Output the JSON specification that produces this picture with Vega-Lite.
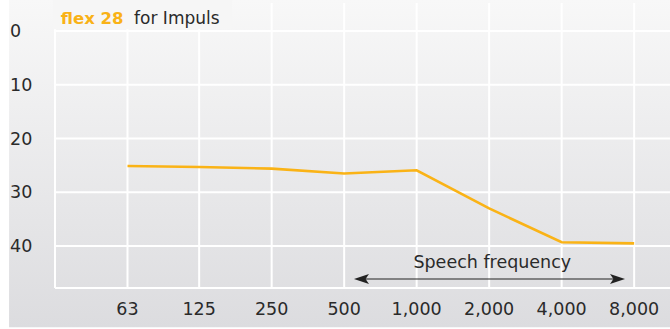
{
  "$schema": "https://vega.github.io/schema/vega-lite/v6.json",
  "width": 615,
  "height": 285,
  "autosize": {"type": "none"},
  "padding": {"left": 55, "top": 3, "right": 0, "bottom": 41},
  "background": "#ffffff",
  "config": {
    "view": {"stroke": null},
    "font": "DejaVu Sans",
    "axis": {"disable": true}
  },
  "datasets": {
    "curve": [
      {"freq": 63, "db": 25.1},
      {"freq": 125, "db": 25.3},
      {"freq": 250, "db": 25.6},
      {"freq": 500, "db": 26.5},
      {"freq": 1000, "db": 25.9},
      {"freq": 2000, "db": 33.0},
      {"freq": 4000, "db": 39.3},
      {"freq": 8000, "db": 39.5}
    ],
    "ygrid": [{"db": 0}, {"db": 10}, {"db": 20}, {"db": 30}, {"db": 40}],
    "one": [{}]
  },
  "layer": [
    {
      "data": {"name": "one"},
      "mark": {"type": "rect", "fill": {"gradient": "linear", "x1": 0, "y1": 0, "x2": 0, "y2": 1, "stops": [{"offset": 0, "color": "#f8f8f8"}, {"offset": 1, "color": "#dcdcdf"}]}},
      "encoding": {
        "x": {"datum": 20.3, "type": "quantitative", "scale": {"type": "log", "base": 2, "domain": [31.5, 11270]}},
        "x2": {"datum": 13000},
        "y": {"datum": -5.8, "type": "quantitative", "scale": {"domain": [-5.21, 47.81], "reverse": true, "zero": false, "nice": false}},
        "y2": {"datum": 55.1}
      }
    },
    {
      "data": {"name": "curve"},
      "mark": {"type": "rule", "color": "#ffffff", "strokeWidth": 2},
      "encoding": {
        "x": {"field": "freq", "type": "quantitative", "scale": {"type": "log", "base": 2, "domain": [31.5, 11270]}}
      }
    },
    {
      "data": {"name": "ygrid"},
      "mark": {"type": "rule", "color": "#ffffff", "strokeWidth": 2},
      "encoding": {
        "y": {"field": "db", "type": "quantitative", "scale": {"domain": [-5.21, 47.81], "reverse": true, "zero": false, "nice": false}}
      }
    },
    {
      "data": {"name": "one"},
      "mark": {"type": "rule", "color": "#ffffff", "strokeWidth": 2},
      "encoding": {
        "x": {"datum": 31.5, "type": "quantitative", "scale": {"type": "log", "base": 2, "domain": [31.5, 11270]}}
      }
    },
    {
      "data": {"name": "one"},
      "mark": {"type": "rule", "color": "#ffffff", "strokeWidth": 2},
      "encoding": {
        "y": {"datum": 47.81, "type": "quantitative", "scale": {"domain": [-5.21, 47.81], "reverse": true, "zero": false, "nice": false}}
      }
    },
    {
      "data": {"name": "one"},
      "mark": {"type": "rect", "fill": "#f6f6f6"},
      "encoding": {
        "x": {"datum": 30.9, "type": "quantitative", "scale": {"type": "log", "base": 2, "domain": [31.5, 11270]}},
        "x2": {"datum": 171},
        "y": {"datum": -5.8, "type": "quantitative", "scale": {"domain": [-5.21, 47.81], "reverse": true, "zero": false, "nice": false}},
        "y2": {"datum": -0.32}
      }
    },
    {
      "data": {"name": "ygrid"},
      "mark": {"type": "text", "font": "DejaVu Sans", "fontSize": 17.5, "color": "#2a2a2a", "align": "left", "baseline": "middle", "dy": 1},
      "encoding": {
        "x": {"datum": 20.49, "type": "quantitative", "scale": {"type": "log", "base": 2, "domain": [31.5, 11270]}},
        "y": {"field": "db", "type": "quantitative", "scale": {"domain": [-5.21, 47.81], "reverse": true, "zero": false, "nice": false}},
        "text": {"field": "db", "type": "quantitative", "format": "d"}
      }
    },
    {
      "data": {"name": "curve"},
      "mark": {"type": "text", "font": "DejaVu Sans", "fontSize": 17.5, "color": "#2a2a2a", "align": "center", "baseline": "alphabetic"},
      "encoding": {
        "x": {"field": "freq", "type": "quantitative", "scale": {"type": "log", "base": 2, "domain": [31.5, 11270]}},
        "y": {"datum": 52.84, "type": "quantitative", "scale": {"domain": [-5.21, 47.81], "reverse": true, "zero": false, "nice": false}},
        "text": {"field": "freq", "type": "quantitative", "format": ","}
      }
    },
    {
      "data": {"name": "one"},
      "mark": {"type": "text", "text": "flex 28", "font": "DejaVu Sans", "fontWeight": "bold", "fontSize": 16.5, "color": "#f9b217", "align": "left", "baseline": "alphabetic"},
      "encoding": {
        "x": {"datum": 33.3, "type": "quantitative", "scale": {"type": "log", "base": 2, "domain": [31.5, 11270]}},
        "y": {"datum": -1.3, "type": "quantitative", "scale": {"domain": [-5.21, 47.81], "reverse": true, "zero": false, "nice": false}}
      }
    },
    {
      "data": {"name": "one"},
      "mark": {"type": "text", "text": "for Impuls", "font": "DejaVu Sans", "fontSize": 17, "color": "#2a2a2a", "align": "left", "baseline": "alphabetic"},
      "encoding": {
        "x": {"datum": 67.1, "type": "quantitative", "scale": {"type": "log", "base": 2, "domain": [31.5, 11270]}},
        "y": {"datum": -1.3, "type": "quantitative", "scale": {"domain": [-5.21, 47.81], "reverse": true, "zero": false, "nice": false}}
      }
    },
    {
      "data": {"name": "curve"},
      "mark": {"type": "line", "color": "#fab316", "strokeWidth": 2.6},
      "encoding": {
        "x": {"field": "freq", "type": "quantitative", "scale": {"type": "log", "base": 2, "domain": [31.5, 11270]}},
        "y": {"field": "db", "type": "quantitative", "scale": {"domain": [-5.21, 47.81], "reverse": true, "zero": false, "nice": false}}
      }
    },
    {
      "data": {"name": "one"},
      "mark": {"type": "rule", "color": "#222222", "strokeWidth": 1.2},
      "encoding": {
        "x": {"datum": 600, "type": "quantitative", "scale": {"type": "log", "base": 2, "domain": [31.5, 11270]}},
        "x2": {"datum": 6800},
        "y": {"datum": 46.14, "type": "quantitative", "scale": {"domain": [-5.21, 47.81], "reverse": true, "zero": false, "nice": false}}
      }
    },
    {
      "data": {"name": "one"},
      "mark": {"type": "point", "shape": "M-1,0L1,-0.67L0.55,0L1,0.67Z", "size": 225, "filled": true, "color": "#222222", "opacity": 1},
      "encoding": {
        "x": {"datum": 590, "type": "quantitative", "scale": {"type": "log", "base": 2, "domain": [31.5, 11270]}},
        "y": {"datum": 46.14, "type": "quantitative", "scale": {"domain": [-5.21, 47.81], "reverse": true, "zero": false, "nice": false}}
      }
    },
    {
      "data": {"name": "one"},
      "mark": {"type": "point", "shape": "M1,0L-1,-0.67L-0.55,0L-1,0.67Z", "size": 225, "filled": true, "color": "#222222", "opacity": 1},
      "encoding": {
        "x": {"datum": 6823, "type": "quantitative", "scale": {"type": "log", "base": 2, "domain": [31.5, 11270]}},
        "y": {"datum": 46.14, "type": "quantitative", "scale": {"domain": [-5.21, 47.81], "reverse": true, "zero": false, "nice": false}}
      }
    },
    {
      "data": {"name": "one"},
      "mark": {"type": "text", "text": "Speech frequency", "font": "DejaVu Sans", "fontSize": 17.5, "color": "#2a2a2a", "align": "center", "baseline": "alphabetic"},
      "encoding": {
        "x": {"datum": 2061, "type": "quantitative", "scale": {"type": "log", "base": 2, "domain": [31.5, 11270]}},
        "y": {"datum": 44.16, "type": "quantitative", "scale": {"domain": [-5.21, 47.81], "reverse": true, "zero": false, "nice": false}}
      }
    }
  ]
}
